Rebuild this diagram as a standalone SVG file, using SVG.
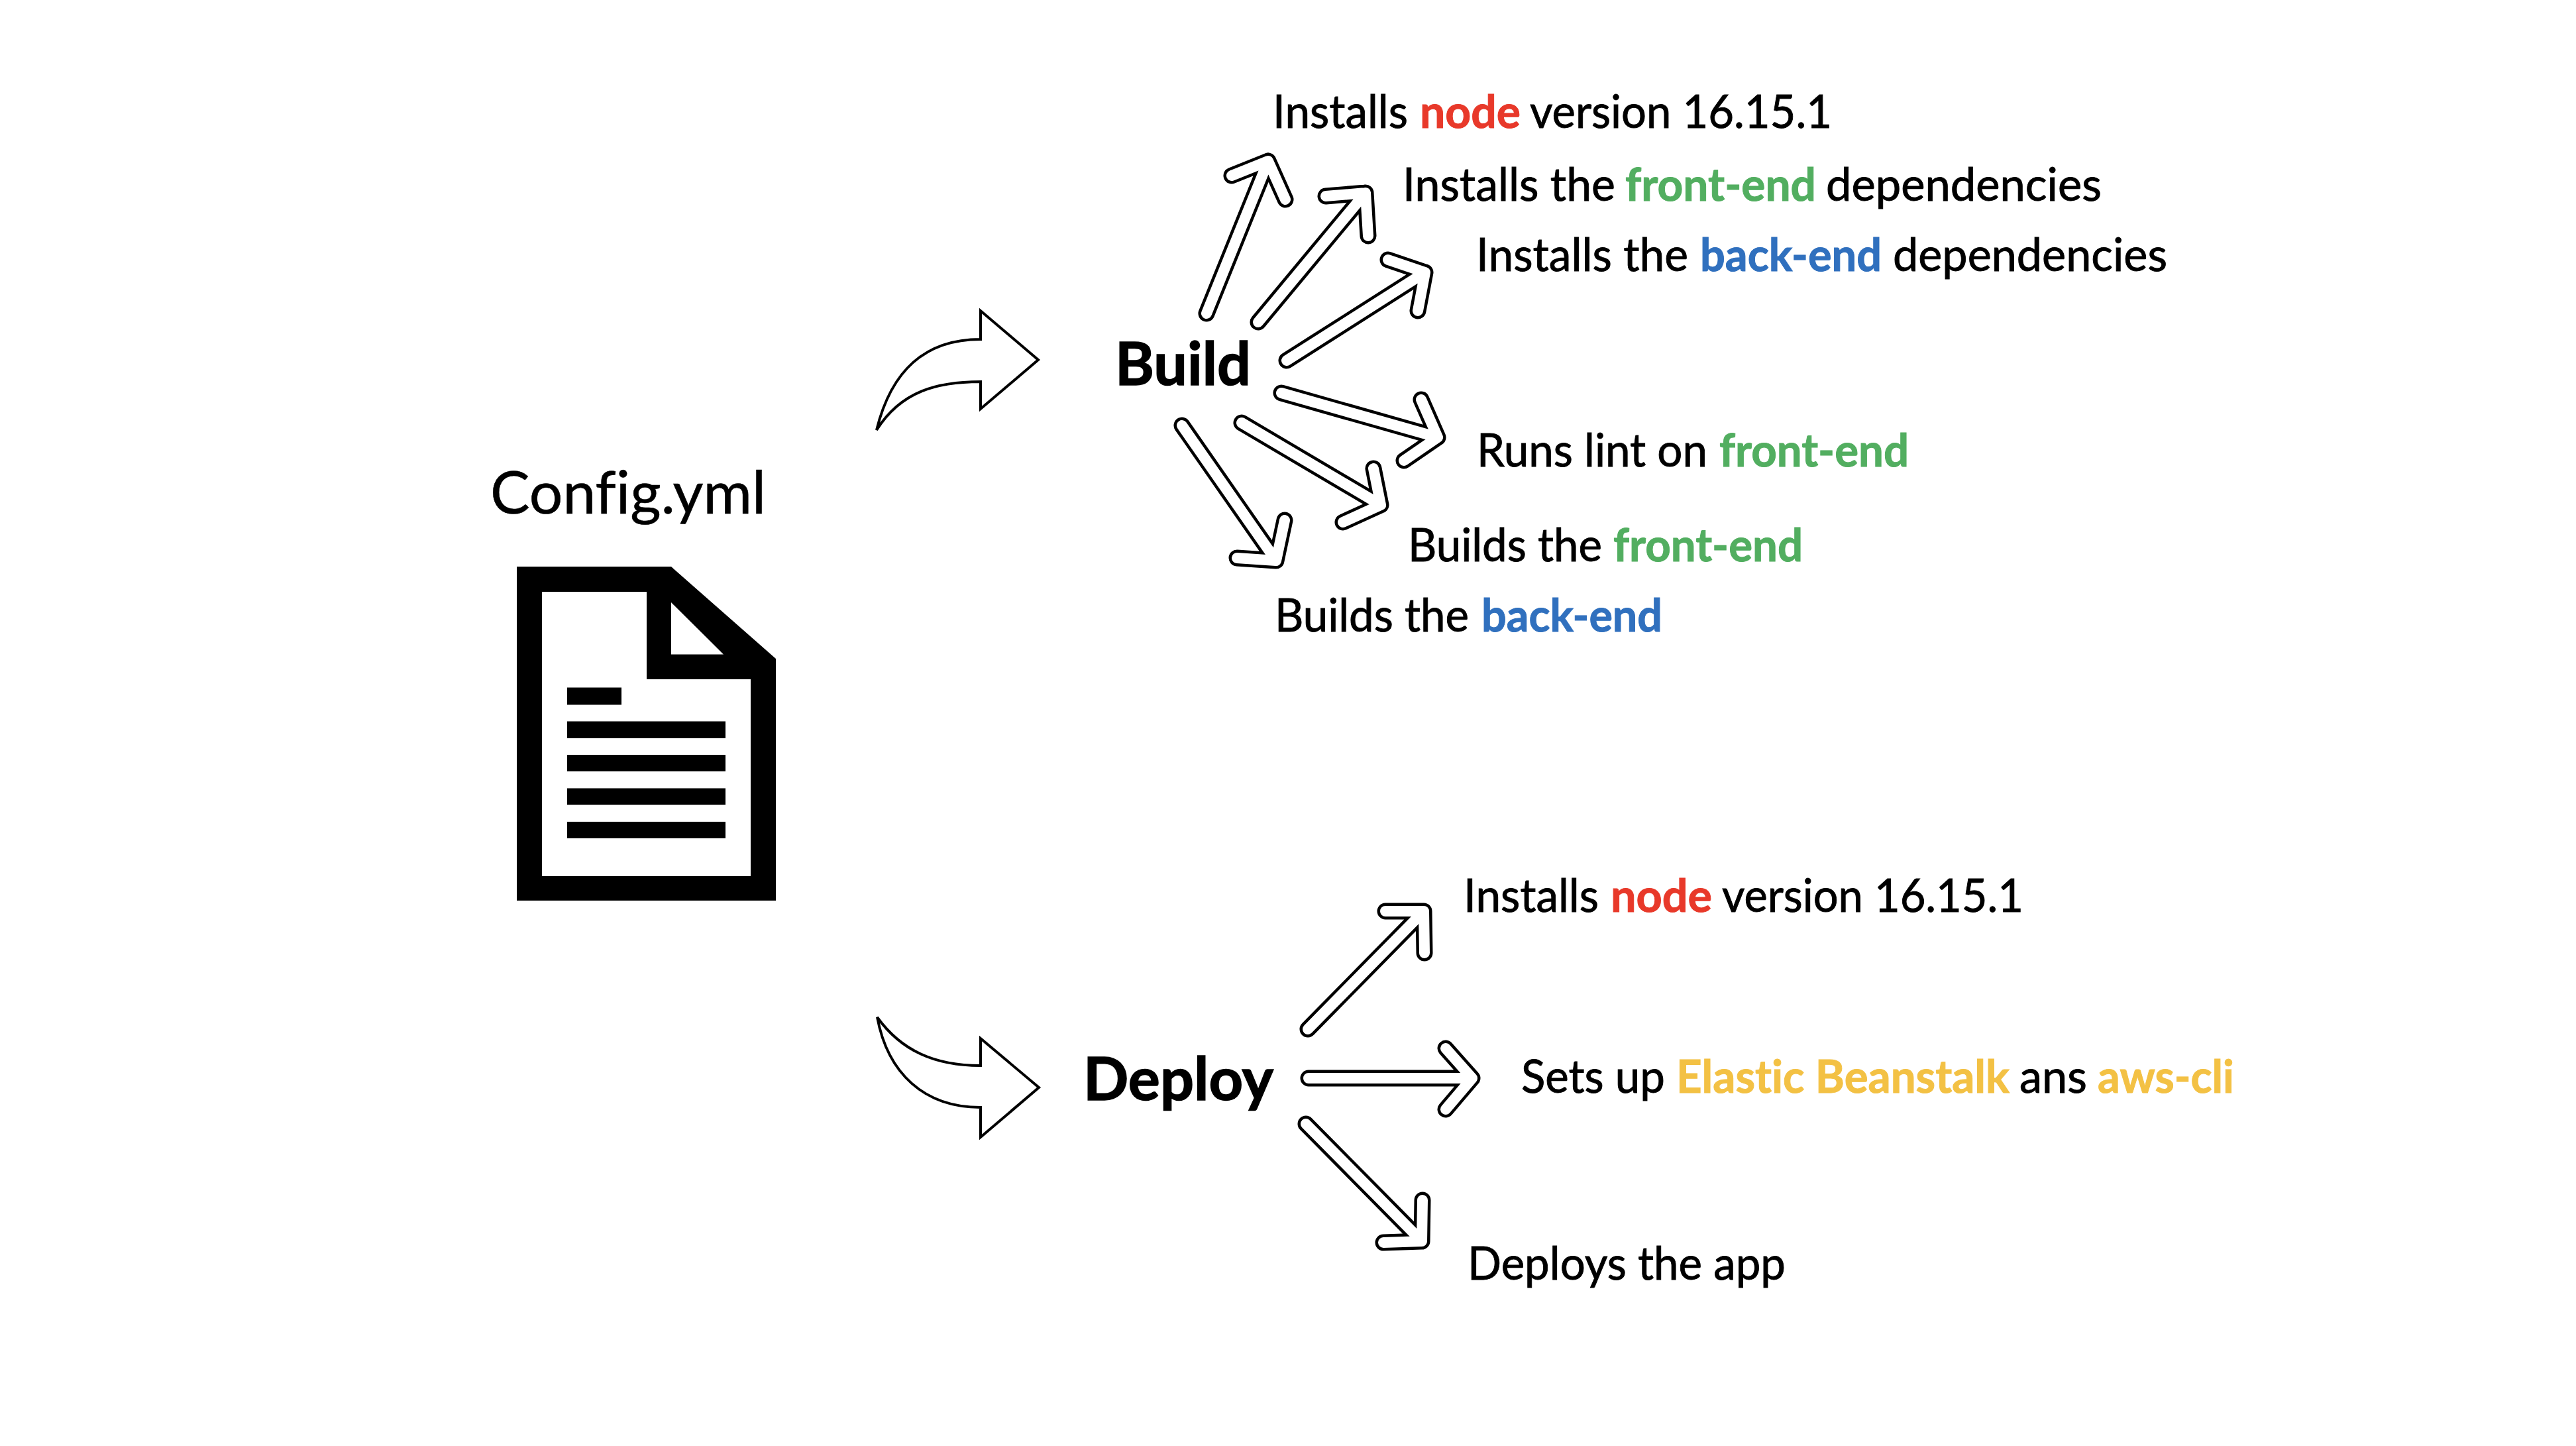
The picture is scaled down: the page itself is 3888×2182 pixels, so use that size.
<svg xmlns="http://www.w3.org/2000/svg" width="3888" height="2182" viewBox="0 0 3888 2182">
<style>
text{font-family:"Lato","Carlito","Liberation Sans",sans-serif;fill:#000;font-variant-ligatures:none}
.s{font-size:69px;stroke:#000;stroke-width:.9}
.l{font-size:90px;stroke:#000;stroke-width:.6}
.h{font-size:90px;font-weight:700;stroke:#000;stroke-width:1.5}
.r,.g,.b,.y{font-weight:700;stroke-width:1}
.r{fill:#E8392A;stroke:#E8392A}.g{fill:#52AE60;stroke:#52AE60}.b{fill:#3070BE;stroke:#3070BE}.y{fill:#F3C144;stroke:#F3C144}
.o,.i{fill:none;stroke-linecap:round;stroke-linejoin:round}
.o{stroke:#000;stroke-width:25}
.i{stroke:#fff;stroke-width:16}
.c{fill:#fff;stroke:#000;stroke-width:4;stroke-linejoin:miter}
</style>
<defs>
<path id="a1" d="M1821,473L1914,243M1859,265L1914,243L1940,301"/>
<path id="a2" d="M1899,486L2061,291M2001,296L2061,291L2065,356"/>
<path id="a3" d="M1942,544L2151,411M2095,392L2151,411L2140,469"/>
<path id="a4" d="M1934,593L2170,660M2145,603L2170,660L2119,695"/>
<path id="a5" d="M1874,638L2084,762M2073,707L2084,762L2027,788"/>
<path id="a6" d="M1784,642L1926,846M1939,785L1926,846L1867,842"/>
<path id="a7" d="M1974,1553L2149,1375M2091,1375L2149,1375L2150,1438"/>
<path id="a8" d="M1975,1627L2222,1627M2182,1582L2222,1627L2182,1674"/>
<path id="a9" d="M1971,1696L2146,1873M2147,1811L2146,1873L2088,1875"/>
</defs>
<rect width="3888" height="2182" fill="#fff"/>
<g id="config">
<text class="l" x="740" y="775" textLength="416" lengthAdjust="spacingAndGlyphs">Config.yml</text>
<path fill-rule="evenodd" d="M780,855H1013L1171,994V1359H780ZM818,893V1322H1133V1025H976V893ZM1013,909V987.5H1092Z"/>
<path d="M856,1037.5h82v26h-82ZM856,1088.5h239v25.5h-239ZM856,1139h239v25h-239ZM856,1189.5h239v25h-239ZM856,1240h239v25h-239Z"/>
</g>
<g id="build"><text class="h" x="1683" y="581" textLength="205" lengthAdjust="spacingAndGlyphs">Build</text></g>
<g id="deploy"><text class="h" x="1635" y="1660" textLength="287" lengthAdjust="spacingAndGlyphs">Deploy</text></g>
<g id="build-steps">
<text id="b1" class="s" y="193"><tspan x="1921" textLength="204" lengthAdjust="spacingAndGlyphs">Installs</tspan> <tspan class="r" x="2143" textLength="152" lengthAdjust="spacingAndGlyphs">node</tspan> <tspan x="2309" textLength="456" lengthAdjust="spacingAndGlyphs">version 16.15.1</tspan></text>
<text id="b2" class="s" y="303"><tspan x="2117" textLength="321" lengthAdjust="spacingAndGlyphs">Installs the</tspan> <tspan class="g" x="2453" textLength="288" lengthAdjust="spacingAndGlyphs">front-end</tspan> <tspan x="2756" textLength="416" lengthAdjust="spacingAndGlyphs">dependencies</tspan></text>
<text id="b3" class="s" y="409"><tspan x="2228" textLength="320" lengthAdjust="spacingAndGlyphs">Installs the</tspan> <tspan class="b" x="2566" textLength="274" lengthAdjust="spacingAndGlyphs">back-end</tspan> <tspan x="2857" textLength="414" lengthAdjust="spacingAndGlyphs">dependencies</tspan></text>
<text id="b4" class="s" y="704"><tspan x="2229" textLength="348" lengthAdjust="spacingAndGlyphs">Runs lint on</tspan> <tspan class="g" x="2595" textLength="286" lengthAdjust="spacingAndGlyphs">front-end</tspan></text>
<text id="b5" class="s" y="847"><tspan x="2125" textLength="293" lengthAdjust="spacingAndGlyphs">Builds the</tspan> <tspan class="g" x="2435" textLength="286" lengthAdjust="spacingAndGlyphs">front-end</tspan></text>
<text id="b6" class="s" y="953"><tspan x="1924" textLength="293" lengthAdjust="spacingAndGlyphs">Builds the</tspan> <tspan class="b" x="2236" textLength="273" lengthAdjust="spacingAndGlyphs">back-end</tspan></text>
</g>
<g id="deploy-steps">
<text id="d1" class="s" y="1376"><tspan x="2209" textLength="204" lengthAdjust="spacingAndGlyphs">Installs</tspan> <tspan class="r" x="2431" textLength="153" lengthAdjust="spacingAndGlyphs">node</tspan> <tspan x="2599" textLength="455" lengthAdjust="spacingAndGlyphs">version 16.15.1</tspan></text>
<text id="d2" class="s" y="1649"><tspan x="2296" textLength="217" lengthAdjust="spacingAndGlyphs">Sets up</tspan> <tspan class="y" x="2530" textLength="503" lengthAdjust="spacingAndGlyphs">Elastic Beanstalk</tspan> <tspan x="3048" textLength="102" lengthAdjust="spacingAndGlyphs">ans</tspan> <tspan class="y" x="3166" textLength="206" lengthAdjust="spacingAndGlyphs">aws-cli</tspan></text>
<text id="d3" class="s" x="2215" y="1931" textLength="480" lengthAdjust="spacingAndGlyphs">Deploys the app</text>
</g>
<g id="connectors">
<path class="c" d="M1323,649C1345,560 1395,512 1480,512V469L1567,543L1480,617V576C1415,576 1360,590 1323,649Z"/>
<path class="c" d="M1324,1535C1360,1585 1410,1608 1480,1608V1567L1568,1641L1480,1716V1671C1395,1671 1340,1620 1324,1535Z"/>
<use href="#a1" class="o"/><use href="#a2" class="o"/><use href="#a3" class="o"/><use href="#a4" class="o"/><use href="#a5" class="o"/><use href="#a6" class="o"/><use href="#a7" class="o"/><use href="#a8" class="o"/><use href="#a9" class="o"/>
<use href="#a1" class="i"/><use href="#a2" class="i"/><use href="#a3" class="i"/><use href="#a4" class="i"/><use href="#a5" class="i"/><use href="#a6" class="i"/><use href="#a7" class="i"/><use href="#a8" class="i"/><use href="#a9" class="i"/>
</g>
</svg>
